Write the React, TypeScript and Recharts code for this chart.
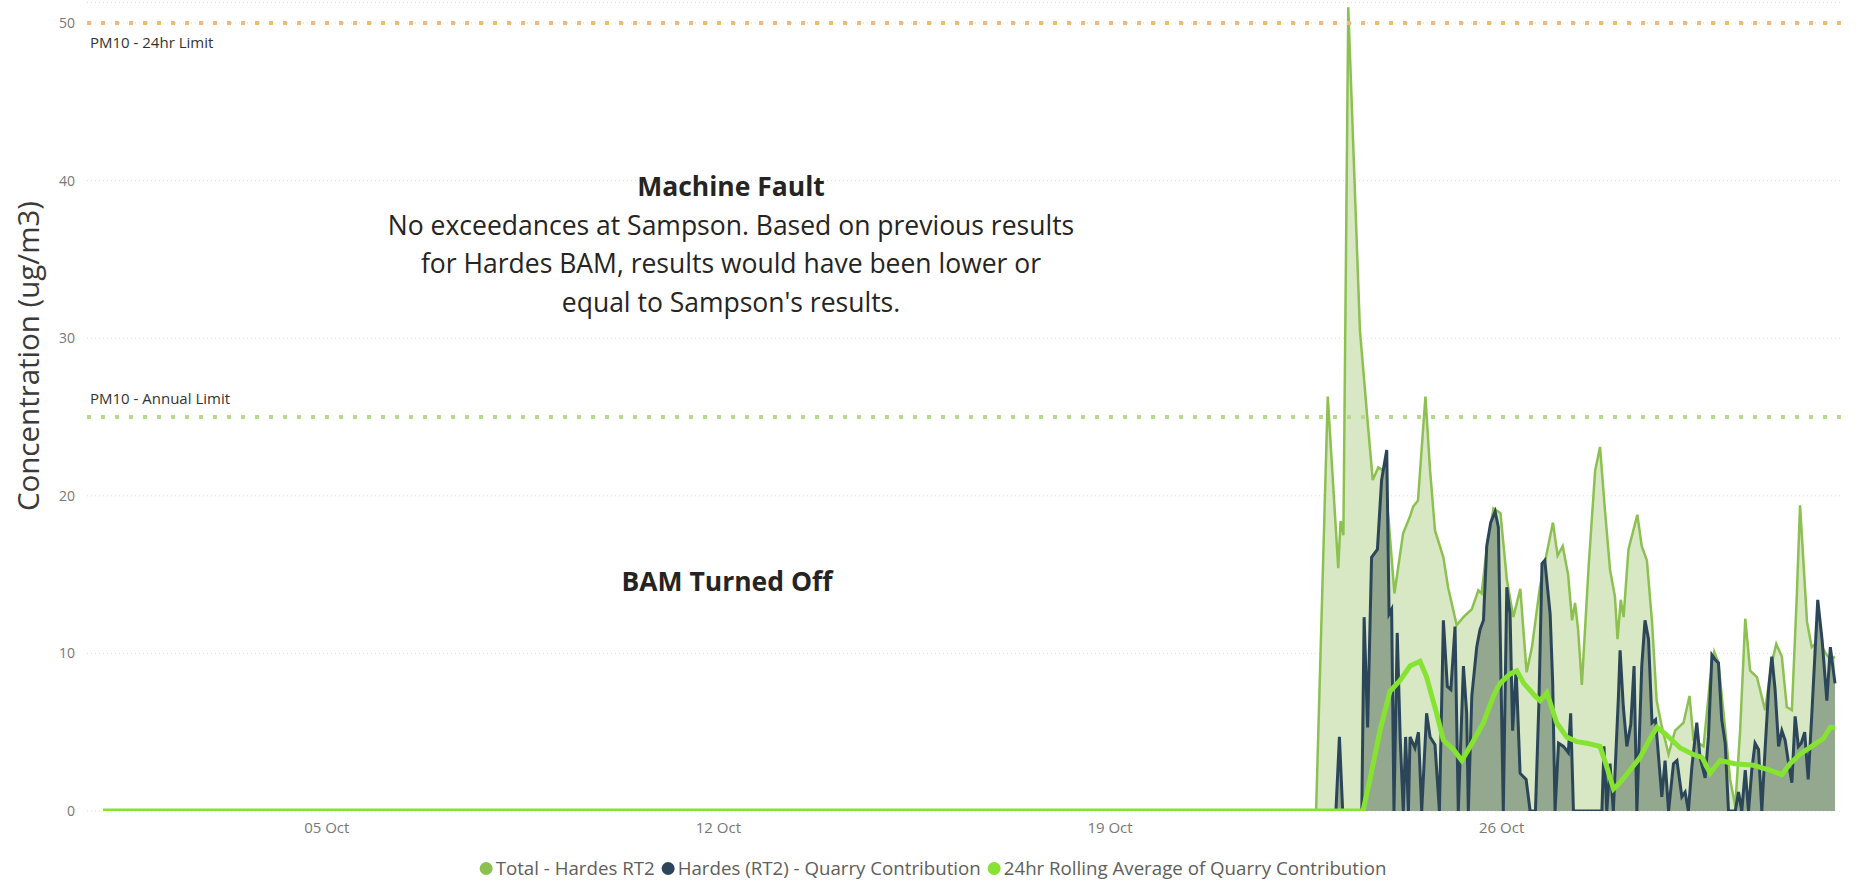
import { Area, CartesianGrid, ComposedChart, Line, ReferenceLine, XAxis, YAxis } from 'recharts';

const FONT = "'Open Sans', 'Noto Sans', sans-serif";

// hours since 01 Oct 00:00
const xTickHours = [96, 264, 432, 600];
const xTickLabels = ['05 Oct', '12 Oct', '19 Oct', '26 Oct'];
const yTicks = [0, 10, 20, 30, 40, 50];

const limitValues = [50, 25];
const limitNames = ['PM10 - 24hr Limit', 'PM10 - Annual Limit'];

const seriesNames = [
  'Total - Hardes RT2',
  'Hardes (RT2) - Quarry Contribution',
  '24hr Rolling Average of Quarry Contribution',
];

const totalHours = [
  0, 520.4, 525.4, 529.9, 530.9, 532.1, 534.2, 539.2, 542.8, 544.7,
  547.1, 549.2, 551.5, 554.0, 557.7, 560.7, 562.0, 564.1, 567.3, 569.3,
  571.4, 575.0, 577.0, 580.7, 583.6, 587.2, 590.0, 591.4, 593.9, 596.5,
  599.5, 602.2, 605.0, 608.0, 610.7, 613.0, 616.4, 622.0, 624.0, 626.2,
  628.5, 630.2, 631.5, 632.8, 634.4, 637.3, 640.1, 642.2, 644.3, 646.5,
  648.6, 649.7, 651.1, 652.3, 654.4, 658.2, 660.1, 662.3, 664.5, 666.5,
  668.5, 671.6, 674.4, 678.0, 680.6, 682.3, 686.6, 689.4, 691.2, 693.0,
  695.2, 698.0, 700.2, 702.3, 704.5, 706.6, 709.5, 713.0, 715.9, 717.8,
  720.2, 722.3, 724.5, 726.6, 728.0, 731.0, 733.0, 736.0, 739.0, 741.0,
  743.0,
];
const totalValues = [
  0, 0, 26.3, 15.4, 18.4, 17.5, 51.0, 30.5, 24.2, 21.0,
  21.8, 21.6, 18.5, 13.8, 17.6, 18.7, 19.3, 19.7, 26.3, 21.6,
  17.8, 16.1, 14.2, 11.8, 12.3, 12.8, 14.0, 13.8, 17.0, 19.2,
  18.9, 14.7, 12.3, 14.1, 8.8, 10.4, 14.2, 18.3, 16.2, 16.8,
  15.0, 12.1, 13.2, 11.5, 8.0, 15.5, 21.6, 23.1, 19.1, 15.3,
  13.6, 10.9, 13.4, 12.3, 16.6, 18.8, 16.8, 15.9, 12.0, 7.0,
  5.5, 3.6, 5.1, 5.6, 7.3, 4.5, 4.1, 8.3, 10.1, 9.4,
  6.2, 2.0, 0.3, 5.1, 12.2, 8.9, 8.5, 6.4, 9.4, 10.6,
  9.8, 6.6, 6.4, 13.6, 19.4, 12.0, 10.4, 10.8, 10.0, 9.6,
  9.8,
];

const quarryHours = [
  0, 528.9, 530.4, 531.8, 540.0, 541.0, 542.5, 544.2, 546.7, 548.5,
  550.7, 551.7, 552.8, 553.8, 555.2, 556.5, 557.8, 558.8, 560.0, 560.7,
  562.8, 564.3, 565.7, 567.8, 569.3, 571.4, 573.3, 575.0, 576.7, 578.2,
  580.0, 581.4, 583.6, 585.0, 585.7, 587.2, 589.3, 590.7, 592.2, 593.6,
  595.3, 597.2, 598.6, 599.6, 600.7, 602.2, 603.6, 604.7, 606.2, 607.9,
  610.5, 612.2, 614.5, 616.0, 617.3, 618.5, 620.8, 621.9, 622.9, 624.4,
  626.5, 628.6, 629.6, 630.8, 643.0, 643.9, 645.1, 646.5, 647.9, 650.1,
  650.8, 652.2, 653.7, 655.4, 656.8, 658.0, 660.1, 661.5, 663.0, 664.5,
  666.0, 668.7, 670.1, 671.6, 673.7, 675.2, 677.3, 678.7, 680.1, 681.6,
  683.7, 685.1, 687.3, 688.7, 690.2, 691.6, 693.0, 694.4, 695.9, 697.3,
  700.2, 701.6, 703.0, 704.5, 705.9, 707.3, 708.7, 710.2, 711.6, 713.0,
  714.5, 715.9, 717.3, 718.8, 720.2, 721.6, 723.1, 724.5, 725.9, 727.3,
  728.5, 730.0, 731.5, 733.0, 735.6, 737.5, 739.5, 741.0, 743.0,
];
const quarryValues = [
  0, 0, 4.7, 0, 0, 12.3, 5.3, 16.1, 16.6, 21.0,
  22.9, 12.5, 12.8, 0, 11.3, 4.5, 0, 4.7, 0, 4.7,
  4.0, 5.0, 0, 6.2, 4.7, 4.2, 0, 12.1, 7.9, 7.7,
  11.7, 0, 9.2, 6.2, 0, 7.3, 10.4, 11.5, 12.1, 16.8,
  18.3, 19.0, 18.0, 9.4, 0, 14.2, 12.5, 5.1, 9.0, 2.4,
  2.0, 0, 0, 7.0, 15.7, 15.9, 12.5, 8.1, 0, 4.3,
  4.1, 3.7, 6.2, 0, 0, 4.1, 0, 3.0, 0, 7.3,
  10.2, 6.6, 4.1, 5.5, 9.2, 0, 9.2, 12.1, 10.9, 5.6,
  5.8, 0.9, 3.2, 0, 3.0, 3.2, 0.9, 1.2, 0, 2.8,
  5.6, 3.4, 2.1, 4.7, 9.9, 9.6, 9.4, 5.8, 4.3, 0,
  0, 1.2, 0, 2.6, 0, 2.6, 4.3, 3.9, 0, 3.9,
  7.7, 9.8, 7.7, 4.1, 5.1, 4.5, 3.0, 1.8, 6.0, 4.1,
  4.3, 5.0, 2.0, 6.0, 13.4, 10.8, 7.0, 10.4, 8.1,
];

const rollingHours = [
  0, 540.5, 543.5, 547.8, 552.1, 556.5, 560.7, 565.0, 567.8, 572.1,
  575.0, 579.3, 582.9, 586.5, 592.2, 596.5, 599.3, 603.6, 606.5, 609.5,
  614.3, 616.5, 619.4, 623.6, 627.9, 632.2, 636.5, 642.2, 645.1, 648.0,
  650.8, 655.1, 659.4, 663.7, 666.6, 670.1, 676.6, 682.0, 686.0, 689.4,
  693.7, 700.0, 708.0, 715.0, 720.2, 723.7, 728.0, 733.0, 738.0, 741.0,
  743.0,
];
const rollingValues = [
  0, 0, 2.0, 5.1, 7.6, 8.3, 9.2, 9.5, 8.5, 6.2,
  4.5, 3.9, 3.2, 4.1, 5.6, 7.3, 8.1, 8.7, 8.9, 8.1,
  7.3, 7.0, 7.5, 5.6, 4.7, 4.4, 4.3, 4.1, 2.8, 1.4,
  1.8, 2.6, 3.4, 4.6, 5.3, 4.9, 4.0, 3.6, 3.4, 2.4,
  3.2, 3.0, 2.9, 2.6, 2.3, 3.0, 3.6, 4.1, 4.6, 5.3,
  5.3,
];

const toPoints = (hours: number[], values: number[]) => hours.map((t, i) => ({ t, v: values[i] }));

const totalData = toPoints(totalHours, totalValues);
const quarryData = toPoints(quarryHours, quarryValues);
const rollingData = toPoints(rollingHours, rollingValues);

const COLORS = {
  total: '#8cc152',
  totalFill: '#d8e8c5',
  quarry: '#2c4659',
  quarryFill: '#93a88f',
  rolling: '#86e332',
  limit24: '#f3b978',
  limitYear: '#b8d88f',
};

function LimitLabel({ viewBox, text, below }: any) {
  if (!viewBox) return null;
  return (
    <text
      x={viewBox.x + 3}
      y={below ? viewBox.y + 25 : viewBox.y - 13}
      fontSize={15}
      fontFamily={FONT}
      fill="#333"
    >
      {text}
    </text>
  );
}

const noteStyle: React.CSSProperties = {
  position: 'absolute',
  fontFamily: FONT,
  color: '#252423',
  textAlign: 'center',
  whiteSpace: 'nowrap',
  transform: 'translateX(-50%)',
};

export default function App() {
  return (
    <div style={{ position: 'absolute', left: 0, top: 0, width: 1863, height: 881, background: '#fff' }}>
      <ComposedChart width={1863} height={881} margin={{ top: 2.5, right: 21, bottom: 40, left: 0 }}>
        <CartesianGrid vertical={false} stroke="#dcdcdc" strokeDasharray="1 3" />
        <XAxis
          type="number"
          dataKey="t"
          domain={[-6.86, 746]}
          ticks={xTickHours}
          tickFormatter={(t: number) => xTickLabels[xTickHours.indexOf(t)]}
          axisLine={false}
          tickLine={false}
          tickMargin={5}
          height={30}
          tick={{ fontSize: 15, fill: '#777', fontFamily: FONT }}
          allowDataOverflow
        />
        <YAxis
          type="number"
          domain={[0, 51.3]}
          ticks={yTicks}
          width={87}
          axisLine={false}
          tickLine={false}
          tickMargin={6}
          tick={{ fontSize: 14, fill: '#777', fontFamily: FONT }}
          allowDataOverflow
        />
        <ReferenceLine
          y={limitValues[0]}
          stroke={COLORS.limit24}
          strokeWidth={4}
          strokeDasharray="4 10"
          label={<LimitLabel text={limitNames[0]} below />}
        />
        <ReferenceLine
          y={limitValues[1]}
          stroke={COLORS.limitYear}
          strokeWidth={4}
          strokeDasharray="4 10"
          label={<LimitLabel text={limitNames[1]} />}
        />
        <Area
          data={totalData}
          dataKey="v"
          name={seriesNames[0]}
          type="linear"
          stroke={COLORS.total}
          strokeWidth={2.5}
          fill={COLORS.totalFill}
          fillOpacity={1}
          isAnimationActive={false}
        />
        <Area
          data={quarryData}
          dataKey="v"
          name={seriesNames[1]}
          type="linear"
          stroke={COLORS.quarry}
          strokeWidth={3}
          fill={COLORS.quarryFill}
          fillOpacity={1}
          isAnimationActive={false}
        />
        <Line
          data={rollingData}
          dataKey="v"
          name={seriesNames[2]}
          type="linear"
          stroke={COLORS.rolling}
          strokeWidth={5}
          dot={false}
          isAnimationActive={false}
        />
      </ComposedChart>

      <div
        style={{
          position: 'absolute',
          left: 27,
          top: 356,
          fontFamily: FONT,
          fontSize: 29.5,
          color: '#3a3a3a',
          whiteSpace: 'nowrap',
          transform: 'translate(-50%, -50%) rotate(-90deg)',
        }}
      >
        Concentration (ug/m3)
      </div>

      <div style={{ ...noteStyle, left: 731, top: 167, fontSize: 26.5, lineHeight: '38.6px' }}>
        <div style={{ fontWeight: 700 }}>Machine Fault</div>
        <div>No exceedances at Sampson. Based on previous results</div>
        <div>for Hardes BAM, results would have been lower or</div>
        <div>equal to Sampson's results.</div>
      </div>
      <div style={{ ...noteStyle, left: 727, top: 563, fontSize: 26.5, fontWeight: 700 }}>BAM Turned Off</div>

      <div
        style={{
          position: 'absolute',
          left: 933,
          top: 856,
          transform: 'translateX(-50%)',
          display: 'flex',
          gap: 7,
          fontFamily: FONT,
          fontSize: 18.7,
          lineHeight: '24px',
          color: '#605e5c',
          whiteSpace: 'nowrap',
        }}
      >
        {seriesNames.map((name, i) => (
          <div key={name} style={{ display: 'flex', alignItems: 'center', gap: 3 }}>
            <span
              style={{
                width: 13,
                height: 13,
                borderRadius: '50%',
                background: [COLORS.total, COLORS.quarry, COLORS.rolling][i],
                display: 'inline-block',
              }}
            />
            {name}
          </div>
        ))}
      </div>
    </div>
  );
}
